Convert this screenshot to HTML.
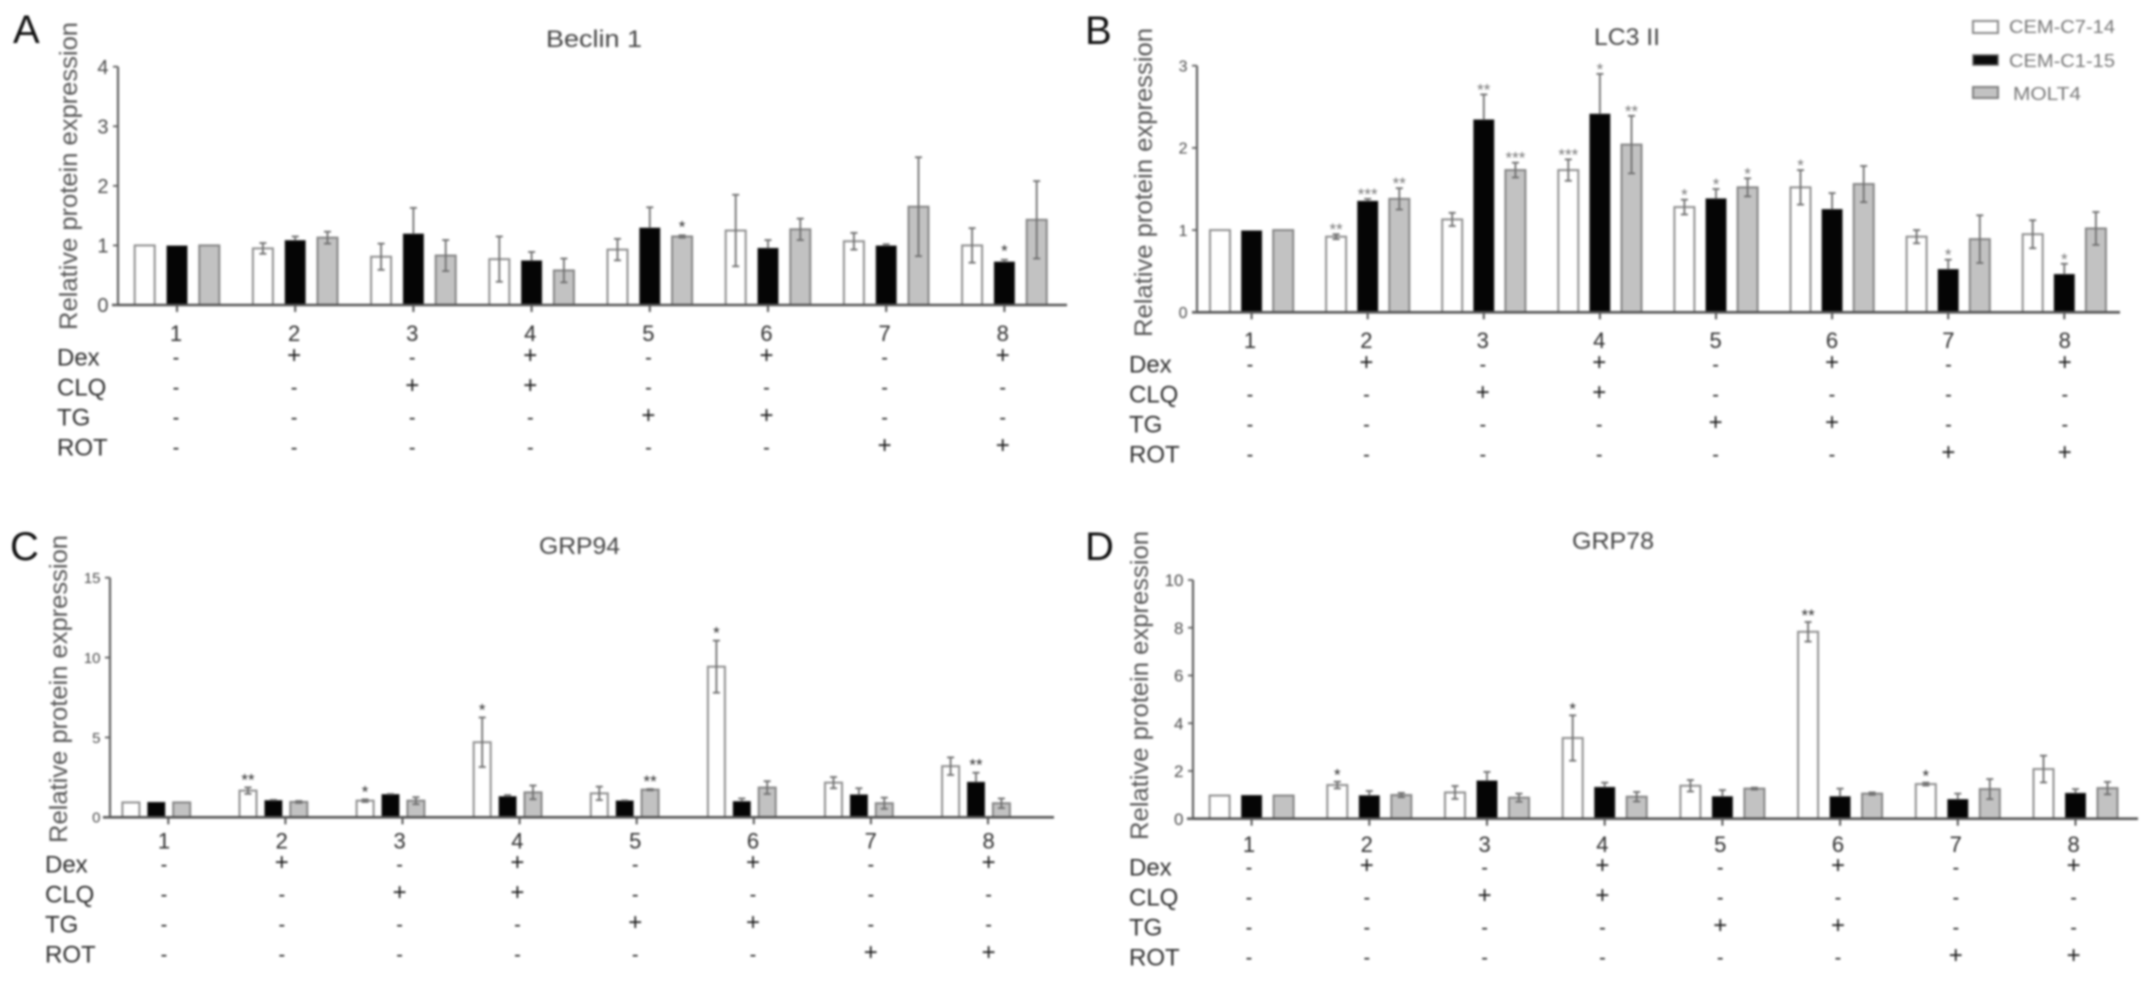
<!DOCTYPE html>
<html lang="en">
<head>
<meta charset="utf-8">
<title>Relative protein expression panels</title>
<style>
html,body{margin:0;padding:0;background:#fff;width:2150px;height:981px;overflow:hidden}
svg{display:block;filter:blur(1px)}
text{font-family:"Liberation Sans",Arial,sans-serif}
</style>
</head>
<body>
<svg id="figure" width="2150" height="981" viewBox="0 0 2150 981" xmlns="http://www.w3.org/2000/svg">
  <rect x="0" y="0" width="2150" height="981" fill="#fff"/>
  <g>
    <g>
      <rect x="1973" y="21" width="25" height="12" fill="#fff" stroke="#8a8a8a" stroke-width="2"/>
      <text x="2009" y="33" font-size="18" fill="#777" textLength="106" lengthAdjust="spacingAndGlyphs">CEM-C7-14</text>
    </g>
    <g>
      <rect x="1973" y="55" width="25" height="10" fill="#0a0a0a" stroke="#666" stroke-width="1.5"/>
      <text x="2009" y="67" font-size="18" fill="#777" textLength="106" lengthAdjust="spacingAndGlyphs">CEM-C1-15</text>
    </g>
    <g>
      <rect x="1973" y="87" width="25" height="11" fill="#c2c2c2" stroke="#808080" stroke-width="2"/>
      <text x="2013" y="100" font-size="18" fill="#777" textLength="68" lengthAdjust="spacingAndGlyphs">MOLT4</text>
    </g>
  </g>
</svg>
<script>
const categories = ['1','2','3','4','5','6','7','8'];
const treatmentNames = ['Dex','CLQ','TG','ROT'];
const dexRow = ['-','+','-','+','-','+','-','+'];
const clqRow = ['-','-','+','+','-','-','-','-'];
const tgRow  = ['-','-','-','-','+','+','-','-'];
const rotRow = ['-','-','-','-','-','-','+','+'];

const beclinTicks = [0,1,2,3,4];
const beclinWhite = [1,0.95,0.81,0.77,0.93,1.25,1.07,1.0];
const beclinWhiteErr = [0,0.09,0.22,0.38,0.18,0.6,0.14,0.29];
const beclinBlack = [0.99,1.08,1.19,0.74,1.29,0.95,0.99,0.72];
const beclinBlackErr = [0,0.07,0.44,0.15,0.35,0.14,0.03,0.04];
const beclinGray = [1,1.13,0.83,0.58,1.15,1.27,1.65,1.43];
const beclinGrayErr = [0,0.1,0.26,0.2,0.02,0.18,0.83,0.65];
const beclinWhiteStars = ['','','','','','','',''];
const beclinBlackStars = ['','','','','','','','*'];
const beclinGrayStars = ['','','','','*','','',''];

const lc3Ticks = [0,1,2,3];
const lc3White = [1,0.92,1.13,1.73,1.28,1.52,0.92,0.95];
const lc3WhiteErr = [0,0.03,0.08,0.13,0.09,0.21,0.08,0.17];
const lc3Black = [0.99,1.35,2.34,2.41,1.38,1.25,0.52,0.46];
const lc3BlackErr = [0,0.03,0.31,0.49,0.12,0.2,0.12,0.13];
const lc3Gray = [1,1.38,1.73,2.04,1.52,1.56,0.89,1.02];
const lc3GrayErr = [0,0.13,0.09,0.35,0.11,0.22,0.29,0.2];
const lc3WhiteStars = ['','**','','***','*','*','',''];
const lc3BlackStars = ['','***','**','*','*','','*','*'];
const lc3GrayStars = ['','**','***','**','*','','',''];

const grp94Ticks = [0,5,10,15];
const grp94White = [0.93,1.67,1.04,4.7,1.5,9.43,2.17,3.2];
const grp94WhiteErr = [0,0.2,0.08,1.55,0.42,1.63,0.35,0.55];
const grp94Black = [0.93,1.04,1.42,1.29,1.02,0.98,1.4,2.19];
const grp94BlackErr = [0,0.05,0.04,0.1,0.04,0.2,0.42,0.6];
const grp94Gray = [0.93,0.96,1.04,1.56,1.73,1.86,0.88,0.88];
const grp94GrayErr = [0,0.06,0.22,0.43,0.04,0.4,0.35,0.3];
const grp94WhiteStars = ['','**','*','*','','*','',''];
const grp94BlackStars = ['','','','','','','','**'];
const grp94GrayStars = ['','','','','**','','',''];

const grp78Ticks = [0,2,4,6,8,10];
const grp78White = [0.97,1.41,1.1,3.38,1.38,7.83,1.45,2.08];
const grp78WhiteErr = [0,0.14,0.27,0.95,0.24,0.41,0.06,0.56];
const grp78Black = [0.97,0.96,1.58,1.31,0.92,0.92,0.8,1.06];
const grp78BlackErr = [0,0.2,0.38,0.2,0.28,0.34,0.25,0.18];
const grp78Gray = [0.97,0.99,0.88,0.92,1.26,1.05,1.24,1.28];
const grp78GrayErr = [0,0.09,0.17,0.2,0.04,0.05,0.42,0.26];
const grp78WhiteStars = ['','*','','*','','**','*',''];
const grp78BlackStars = ['','','','','','','',''];
const grp78GrayStars = ['','','','','','','',''];

const treatmentRows = [dexRow, clqRow, tgRow, rotRow];
const svg = document.getElementById('figure');
const NS = 'http://www.w3.org/2000/svg';

function make(tag, parent, props, content) {
  const el = document.createElementNS(NS, tag);
  for (const k in props) el.setAttribute(k, props[k]);
  if (content !== undefined) el.textContent = content;
  parent.appendChild(el);
  return el;
}

function drawPanel(p) {
  const yScale = v => p.y0 - (v / p.yMax) * (p.y0 - p.yTop);
  const xTick = i => p.tickFirst + p.tickStep * i;
  const xBar = (i, s) => xTick(i) + p.barShift + (s - 1) * p.barGap;
  const xLabel = i => p.labelFirst + p.labelStep * i;

  const g = make('g', svg, {});
  
  

  const letter = make('text', g, {x: p.letterX, y: p.letterY, 'font-size': 40, fill: '#111'}, p.letter);
  
  

  const title = make('text', g, {x: p.titleX, y: p.titleY, 'font-size': 24, fill: '#444', textLength: p.titleW, lengthAdjust: 'spacingAndGlyphs'}, p.title);
  
  

  const yTitle = make('text', g, {
    transform: 'translate(' + p.yTitleX + ',' + p.yTitleBottom + ') rotate(-90)',
    x: 0, y: 0, 'font-size': 25, fill: '#555', textLength: p.yTitleLen, lengthAdjust: 'spacingAndGlyphs'
  }, 'Relative protein expression');
  
  

  const series = [
    {name: 'cem-c7-14', vals: p.white, errs: p.whiteErr, stars: p.whiteStars, fill: '#fff', stroke: '#8f8f8f', sw: 2},
    {name: 'cem-c1-15', vals: p.black, errs: p.blackErr, stars: p.blackStars, fill: '#050505', stroke: '#222', sw: 1},
    {name: 'molt4', vals: p.gray, errs: p.grayErr, stars: p.grayStars, fill: '#c2c2c2', stroke: '#858585', sw: 2}
  ];

  series.forEach((s, si) => {
    s.vals.forEach((v, i) => {
      const cx = xBar(i, si);
      const top = yScale(v);
      const err = s.errs[i];
      const errTop = yScale(v + err);
      const errBot = yScale(Math.max(v - err, 0));

      const bar = make('rect', g, {x: cx - p.barW / 2, y: top, width: p.barW, height: p.y0 - top, fill: s.fill, stroke: s.stroke, 'stroke-width': s.sw});
      
      

      if (err > 0) {
        const line = make('line', g, {x1: cx, x2: cx, y1: errTop, y2: si === 1 ? top : errBot, stroke: '#6f6f6f', 'stroke-width': 1.8});
        
        

        const capTop = make('line', g, {x1: cx - 3.5, x2: cx + 3.5, y1: errTop, y2: errTop, stroke: '#6f6f6f', 'stroke-width': 1.8});
        
        

        if (si !== 1) {
          const capBot = make('line', g, {x1: cx - 3.5, x2: cx + 3.5, y1: errBot, y2: errBot, stroke: '#6f6f6f', 'stroke-width': 1.8});
          
          
        }
      }

      if (s.stars[i]) {
        const star = make('text', g, {x: cx, y: errTop - p.starGap + 10, 'font-size': 17, 'text-anchor': 'middle', fill: p.starColor}, s.stars[i]);
        
        
      }
    });
  });

  const yAxis = make('line', g, {x1: p.axisX, x2: p.axisX, y1: p.yTop, y2: p.y0, stroke: '#606060', 'stroke-width': 2.2});
  
  

  const xAxis = make('line', g, {x1: p.xAxisStart, x2: p.xAxisEnd, y1: p.y0, y2: p.y0, stroke: '#555', 'stroke-width': 2.6});
  
  

  p.ticks.forEach(t => {
    const y = yScale(t);
    const mark = make('line', g, {x1: p.axisX - 5, x2: p.axisX, y1: y, y2: y, stroke: '#606060', 'stroke-width': 1.8});
    
    

    const label = make('text', g, {x: p.axisX - 9.5, y: y + p.tickFont * 0.36, 'font-size': p.tickFont, 'text-anchor': 'end', fill: '#4a4a4a'}, String(t));
    
    
  });

  categories.forEach((c, i) => {
    const mark = make('line', g, {x1: xTick(i), x2: xTick(i), y1: p.y0, y2: p.y0 + 7, stroke: '#555', 'stroke-width': 2});
    
    

    const label = make('text', g, {x: xLabel(i), y: p.numberY + 8, 'font-size': 22, 'text-anchor': 'middle', fill: '#2e2e2e'}, c);
    
    
  });

  treatmentRows.forEach((row, r) => {
    const cy = p.rowFirst + r * 30;
    const rowLabel = make('text', g, {x: p.rowLabelX, y: cy + 8.5, 'font-size': 24, fill: '#2e2e2e'}, treatmentNames[r]);
    
    

    row.forEach((sign, i) => {
      const plus = sign === '+';
      const cell = make('text', g, {x: xLabel(i), y: plus ? cy + 6 : cy + 7, 'font-size': plus ? 24 : 20, 'text-anchor': 'middle', fill: '#1c1c1c'}, sign);
      
      
    });
  });
}

drawPanel({slug:'beclin-1', letter:'A', letterX:13, letterY:43, title:'Beclin 1', titleX:546, titleY:47, titleW:96,
  yTitleX:77, yTitleBottom:330, yTitleLen:308, axisX:118, xAxisStart:112, xAxisEnd:1067, y0:305, yTop:66.7, yMax:4, tickFont:20,
  tickFirst:177, tickStep:118.2, barShift:0, barGap:32.3, barW:20, labelFirst:176, labelStep:118.1, numberY:333, rowFirst:357, rowLabelX:57,
  starGap:13, starColor:'#2a2a2a', ticks:beclinTicks,
  white:beclinWhite, whiteErr:beclinWhiteErr, whiteStars:beclinWhiteStars,
  black:beclinBlack, blackErr:beclinBlackErr, blackStars:beclinBlackStars,
  gray:beclinGray, grayErr:beclinGrayErr, grayStars:beclinGrayStars});

drawPanel({slug:'lc3-ii', letter:'B', letterX:1085, letterY:44, title:'LC3 II', titleX:1594, titleY:45, titleW:66,
  yTitleX:1152, yTitleBottom:337, yTitleLen:309, axisX:1197, xAxisStart:1192, xAxisEnd:2120, y0:312.3, yTop:65.7, yMax:3, tickFont:16,
  tickFirst:1251.6, tickStep:116.1, barShift:0, barGap:31.6, barW:20, labelFirst:1250, labelStep:116.4, numberY:340, rowFirst:364, rowLabelX:1129,
  starGap:9, starColor:'#777', ticks:lc3Ticks,
  white:lc3White, whiteErr:lc3WhiteErr, whiteStars:lc3WhiteStars,
  black:lc3Black, blackErr:lc3BlackErr, blackStars:lc3BlackStars,
  gray:lc3Gray, grayErr:lc3GrayErr, grayStars:lc3GrayStars});

drawPanel({slug:'grp94', letter:'C', letterX:10, letterY:560, title:'GRP94', titleX:539, titleY:554, titleW:81,
  yTitleX:67, yTitleBottom:843, yTitleLen:308, axisX:110, xAxisStart:103, xAxisEnd:1054, y0:817.3, yTop:577.7, yMax:15, tickFont:15,
  tickFirst:168.3, tickStep:117.1, barShift:-12, barGap:25.4, barW:17, labelFirst:164, labelStep:117.8, numberY:840.7, rowFirst:864, rowLabelX:45,
  starGap:12, starColor:'#2a2a2a', ticks:grp94Ticks,
  white:grp94White, whiteErr:grp94WhiteErr, whiteStars:grp94WhiteStars,
  black:grp94Black, blackErr:grp94BlackErr, blackStars:grp94BlackStars,
  gray:grp94Gray, grayErr:grp94GrayErr, grayStars:grp94GrayStars});

drawPanel({slug:'grp78', letter:'D', letterX:1085, letterY:560, title:'GRP78', titleX:1572, titleY:549, titleW:82,
  yTitleX:1148, yTitleBottom:840, yTitleLen:309, axisX:1193, xAxisStart:1187, xAxisEnd:2138, y0:818.7, yTop:580, yMax:10, tickFont:17,
  tickFirst:1251.6, tickStep:117.7, barShift:0, barGap:32, barW:20, labelFirst:1249, labelStep:117.8, numberY:844, rowFirst:867, rowLabelX:1129,
  starGap:11, starColor:'#2a2a2a', ticks:grp78Ticks,
  white:grp78White, whiteErr:grp78WhiteErr, whiteStars:grp78WhiteStars,
  black:grp78Black, blackErr:grp78BlackErr, blackStars:grp78BlackStars,
  gray:grp78Gray, grayErr:grp78GrayErr, grayStars:grp78GrayStars});
</script>
</body>
</html>
